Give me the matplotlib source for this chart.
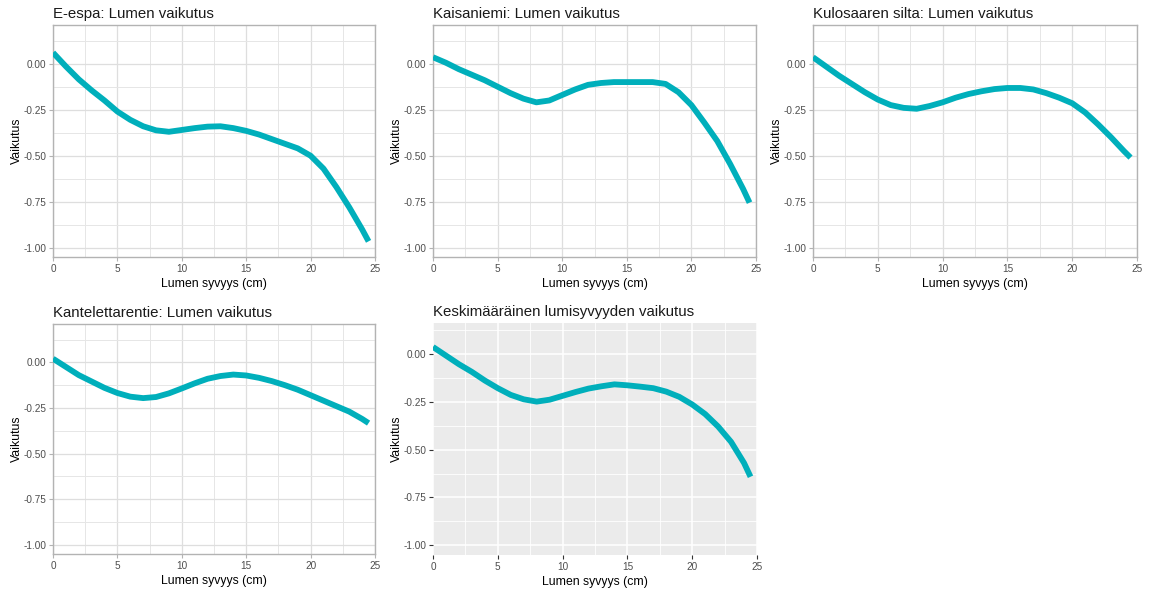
import numpy as np
import matplotlib.pyplot as plt
from matplotlib.ticker import MultipleLocator

plt.rcParams['font.family'] = ['Liberation Sans', 'DejaVu Sans']

# lumen syvyys (cm)
depth = [0, 1, 2, 3, 4, 5, 6, 7, 8, 9, 10, 11, 12, 13, 14, 15, 16, 17,
         18, 19, 20, 21, 22, 23, 24, 24.5]

# vaikutus per asema
e_espa = [0.06, -0.015, -0.085, -0.145, -0.20, -0.26, -0.305, -0.34, -0.362,
          -0.37, -0.36, -0.35, -0.342, -0.34, -0.35, -0.365, -0.385, -0.41,
          -0.435, -0.46, -0.50, -0.57, -0.67, -0.78, -0.90, -0.965]
kaisaniemi = [0.035, 0.005, -0.03, -0.06, -0.09, -0.125, -0.16, -0.19, -0.21,
              -0.20, -0.17, -0.14, -0.115, -0.105, -0.10, -0.10, -0.10, -0.10,
              -0.11, -0.155, -0.225, -0.32, -0.42, -0.545, -0.68, -0.755]
kulosaari = [0.035, -0.015, -0.065, -0.11, -0.155, -0.195, -0.225, -0.24,
             -0.245, -0.23, -0.21, -0.185, -0.165, -0.15, -0.138, -0.132,
             -0.132, -0.14, -0.16, -0.185, -0.215, -0.265, -0.33, -0.40,
             -0.475, -0.51]
kantelettarentie = [0.02, -0.025, -0.07, -0.105, -0.14, -0.168, -0.188, -0.196,
                    -0.19, -0.17, -0.143, -0.115, -0.09, -0.075, -0.067, -0.072,
                    -0.085, -0.103, -0.125, -0.15, -0.18, -0.21, -0.24, -0.27,
                    -0.31, -0.333]
keskiarvo = [0.035, -0.01, -0.055, -0.095, -0.14, -0.18, -0.215, -0.238, -0.25,
             -0.24, -0.22, -0.20, -0.182, -0.17, -0.16, -0.165, -0.172, -0.18,
             -0.198, -0.225, -0.265, -0.315, -0.38, -0.46, -0.57, -0.642]

titles = ["E-espa: Lumen vaikutus", "Kaisaniemi: Lumen vaikutus",
          "Kulosaaren silta: Lumen vaikutus", "Kantelettarentie: Lumen vaikutus",
          "Keskimääräinen lumisyvyyden vaikutus"]
series = [e_espa, kaisaniemi, kulosaari, kantelettarentie, keskiarvo]

W, H = 1156, 593
# panel rectangles in pixels: left, top, right, bottom
boxes = [(53, 25, 375, 257), (433, 25, 756, 257), (813, 25, 1137, 257),
         (53, 324, 375, 554), (433, 323, 757, 555)]

line_col = "#00AFBB"

fig = plt.figure(figsize=(W / 100, H / 100), dpi=100)
fig.patch.set_facecolor("white")

for i, (title, vals, box) in enumerate(zip(titles, series, boxes)):
    l, t, r, b = box
    ax = fig.add_axes([l / W, 1 - b / H, (r - l) / W, (b - t) / H])
    grey = i == 4

    ax.plot(depth, vals, color=line_col, lw=4.2, solid_capstyle="butt", zorder=3)

    ax.set_xlim(0, 25)
    if grey:
        ax.set_ylim(-1.05, 0.16)
    else:
        ax.set_ylim(-1.05, 0.21)
    ax.xaxis.set_major_locator(MultipleLocator(5))
    ax.xaxis.set_minor_locator(MultipleLocator(2.5))
    ax.yaxis.set_minor_locator(MultipleLocator(0.125))
    ax.set_yticks([0, -0.25, -0.5, -0.75, -1.0])
    ax.set_yticklabels(["0.00", "-0.25", "-0.50", "-0.75", "-1.00"])

    if grey:
        ax.set_facecolor("#EBEBEB")
        ax.grid(True, which="major", color="white", lw=1.1)
        ax.grid(True, which="minor", color="white", lw=0.6)
        for s in ax.spines.values():
            s.set_visible(False)
        tick_col = "#333333"
    else:
        ax.set_facecolor("white")
        ax.grid(True, which="major", color="#DEDEDE", lw=0.9)
        ax.grid(True, which="minor", color="#E6E6E6", lw=0.7)
        for s in ax.spines.values():
            s.set_color("#B3B3B3")
            s.set_linewidth(1.0)
        tick_col = "#B3B3B3"
    ax.set_axisbelow(True)

    ax.tick_params(which="major", length=3, width=0.8, color=tick_col,
                   labelsize=7.2, labelcolor="#4D4D4D", pad=2)
    ax.tick_params(which="minor", length=0)

    ax.set_xlabel("Lumen syvyys (cm)", fontsize=8.8, color="black", labelpad=3)
    ax.set_ylabel("Vaikutus", fontsize=8.8, color="black", labelpad=0)
    ax.set_title(title, fontsize=10.8, color="#1A1A1A", loc="left", pad=5)

fig.savefig("out.png", dpi=100)
